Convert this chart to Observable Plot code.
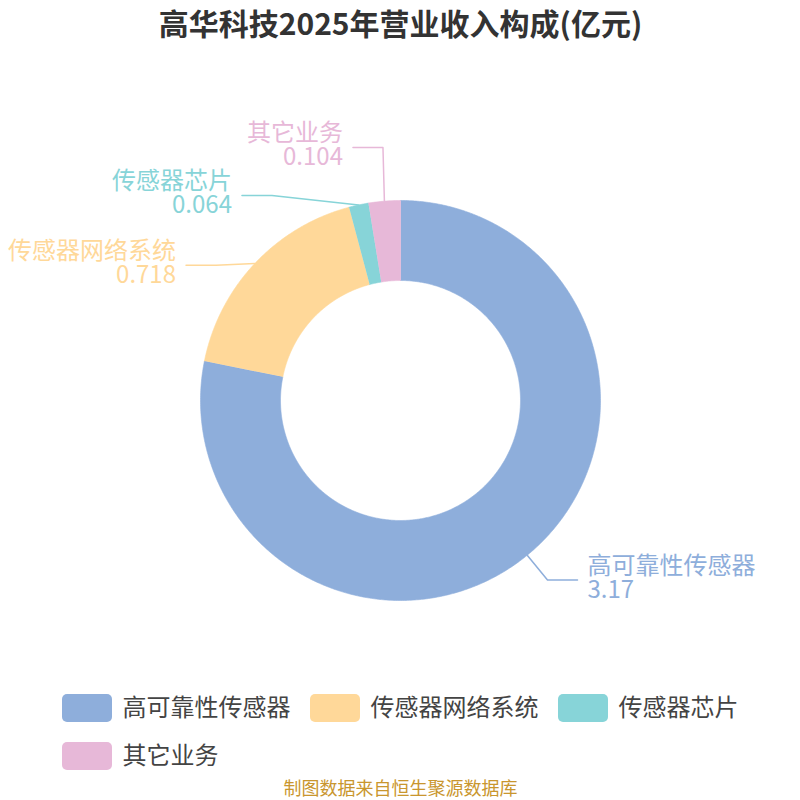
<!DOCTYPE html>
<html><head><meta charset="utf-8">
<script src="https://cdn.jsdelivr.net/npm/d3@7"></script>
<script src="https://cdn.jsdelivr.net/npm/@observablehq/plot@0.6"></script>
<style>html,body{margin:0;padding:0;background:#fff;} #chart{width:800px;height:800px;}</style>
</head><body><div id="chart"></div>
<script>
const titleText = "高华科技2025年营业收入构成(亿元)";
const sourceText = "制图数据来自恒生聚源数据库";
const categories = ["高可靠性传感器", "传感器网络系统", "传感器芯片", "其它业务"];
const values = [3.17, 0.718, 0.064, 0.104];
const valueLabels = ["3.17", "0.718", "0.064", "0.104"];
const colors = ["#8eaedb", "#ffd899", "#87d4d8", "#e7b8d8"];

const W = 800, H = 800, cx = 400, cy = 400, R = 200, R0 = 120;
const L1 = 32, L1E = 18, L2 = 30, GAP = 10, LABEL_H = 48, FS = 24;

const total = d3.sum(values);
let acc = 0;
const slices = categories.map((c, i) => {
  const a0 = acc / total * 2 * Math.PI;
  acc += values[i];
  const a1 = acc / total * 2 * Math.PI;
  return {i, cat: c, value: values[i], label: valueLabels[i], a0, a1, mid: (a0 + a1) / 2};
});
const px = (rad, a) => cx + rad * Math.sin(a);
const py = (rad, a) => cy - rad * Math.cos(a);

// donut polygons
const polyPts = [];
for (const s of slices) {
  const n = Math.max(2, Math.ceil((s.a1 - s.a0) / (Math.PI / 360)));
  for (let k = 0; k <= n; k++) { const a = s.a0 + (s.a1 - s.a0) * k / n; polyPts.push({cat: s.cat, x: px(R, a), y: py(R, a)}); }
  for (let k = n; k >= 0; k--) { const a = s.a0 + (s.a1 - s.a0) * k / n; polyPts.push({cat: s.cat, x: px(R0, a), y: py(R0, a)}); }
}

// label layout (echarts-like)
const rA = R + L1, rAE = R + L1E;
slices.forEach(s => {
  s.dir = Math.sin(s.mid) >= 0 ? 1 : -1;
  s.p0x = px(R, s.mid); s.p0y = py(R, s.mid);
  s.ex = px(rA, s.mid); s.ly = py(rA, s.mid); s.ly0 = s.ly;
  s.exE = px(rAE, s.mid);
});
for (const dir of [1, -1]) {
  const list = slices.filter(s => s.dir === dir).sort((a, b) => a.ly - b.ly);
  if (list.length < 2) continue;
  // push down
  let last = -Infinity, adjusted = false;
  for (const s of list) {
    const d = (s.ly - LABEL_H / 2) - last;
    s.shift = 0;
    if (d < 0) { s.ly -= d; s.shift = -d; adjusted = true; }
    last = s.ly + LABEL_H / 2;
  }
  // balance clusters that overlapped initially
  const clusters = [[list[0]]];
  for (let k = 1; k < list.length; k++) {
    if (list[k].ly0 - list[k - 1].ly0 < LABEL_H) clusters[clusters.length - 1].push(list[k]);
    else clusters.push([list[k]]);
  }
  for (const cl of clusters) {
    if (cl.length < 2) continue;
    const m = d3.mean(cl, s => s.shift);
    cl.forEach(s => s.ly -= m);
  }
  if (adjusted) {
    for (const semi of [list.filter(s => s.ly < cy), list.filter(s => s.ly >= cy)]) {
      if (!semi.length) continue;
      let maxDy = -1, rB = rAE;
      for (const s of semi) {
        const dy = Math.abs(s.ly - cy);
        if (dy >= maxDy) {
          maxDy = dy;
          const dx = s.exE - cx;
          rB = Math.abs(dx) < rAE ? Math.sqrt(dy * dy / (1 - dx * dx / (rAE * rAE))) : rAE;
        }
      }
      for (const s of semi) {
        const dy = Math.abs(s.ly - cy);
        s.ex = cx + dir * Math.sqrt(Math.max(0, 1 - dy * dy / (rB * rB))) * rAE;
      }
    }
  }
}
const linePts = [];
slices.forEach(s => {
  s.tx = s.ex + s.dir * (L2 + GAP);
  s.text = s.cat + "\n" + s.label;
  linePts.push({cat: s.cat, x: s.p0x, y: s.p0y}, {cat: s.cat, x: s.ex, y: s.ly}, {cat: s.cat, x: s.ex + s.dir * L2, y: s.ly});
});
const rightLabels = slices.filter(s => s.dir > 0);
const leftLabels = slices.filter(s => s.dir < 0);

// legend layout
const SW = 50, SH = 28, SGAP = 10, IGAP = 20, MAXROW = 700, ROW0 = 708, ROWH = 48;
const legendItems = categories.map(c => ({cat: c, w: SW + SGAP + c.length * FS}));
const rows = [[]]; let rowW = 0;
for (const it of legendItems) {
  const add = (rows[rows.length - 1].length ? IGAP : 0) + it.w;
  if (rowW + add > MAXROW && rows[rows.length - 1].length) { rows.push([it]); rowW = it.w; }
  else { rows[rows.length - 1].push(it); rowW += add; }
}
const firstRowW = d3.sum(rows[0], d => d.w) + IGAP * (rows[0].length - 1);
const legendLeft = cx - firstRowW / 2;
rows.forEach((row, ri) => {
  let x = legendLeft;
  for (const it of row) { it.x = x; it.y = ROW0 + ri * ROWH; x += it.w + IGAP; }
});

const font = "'Noto Sans CJK SC', 'Noto Sans', sans-serif";
const chart = Plot.plot({
  width: W, height: H, margin: 0,
  x: {domain: [0, W], range: [0, W], axis: null},
  y: {domain: [0, H], range: [0, H], axis: null},
  color: {domain: categories, range: colors},
  style: {fontFamily: font, background: "#fff", overflow: "visible"},
  marks: [
    Plot.line(polyPts, {x: "x", y: "y", z: "cat", fill: "cat", stroke: "cat", strokeWidth: 0.6, curve: "linear"}),
    Plot.line(linePts, {x: "x", y: "y", z: "cat", stroke: "cat", strokeWidth: 1.5, curve: "linear"}),
    Plot.text(rightLabels, {x: "tx", y: d => d.ly - 2, text: "text", fill: "cat", fontSize: FS, lineHeight: 1, lineAnchor: "middle", textAnchor: "start"}),
    Plot.text(leftLabels, {x: "tx", y: d => d.ly - 2, text: "text", fill: "cat", fontSize: FS, lineHeight: 1, lineAnchor: "middle", textAnchor: "end"}),
    Plot.text([titleText], {x: W / 2, y: 25, text: d => d, fontSize: 30, fontWeight: "bold", fill: "#333", textAnchor: "middle"}),
    Plot.rect(legendItems, {x1: "x", x2: d => d.x + SW, y1: d => d.y - SH / 2, y2: d => d.y + SH / 2, fill: "cat", rx: 5}),
    Plot.text(legendItems, {x: d => d.x + SW + SGAP, y: "y", text: "cat", fill: "#444", fontSize: FS, textAnchor: "start"}),
    Plot.text([sourceText], {x: W / 2, y: 789, text: d => d, fontSize: 18, fill: "#c9962e", textAnchor: "middle"})
  ]
});
document.getElementById("chart").appendChild(chart);
</script>
</body></html>
